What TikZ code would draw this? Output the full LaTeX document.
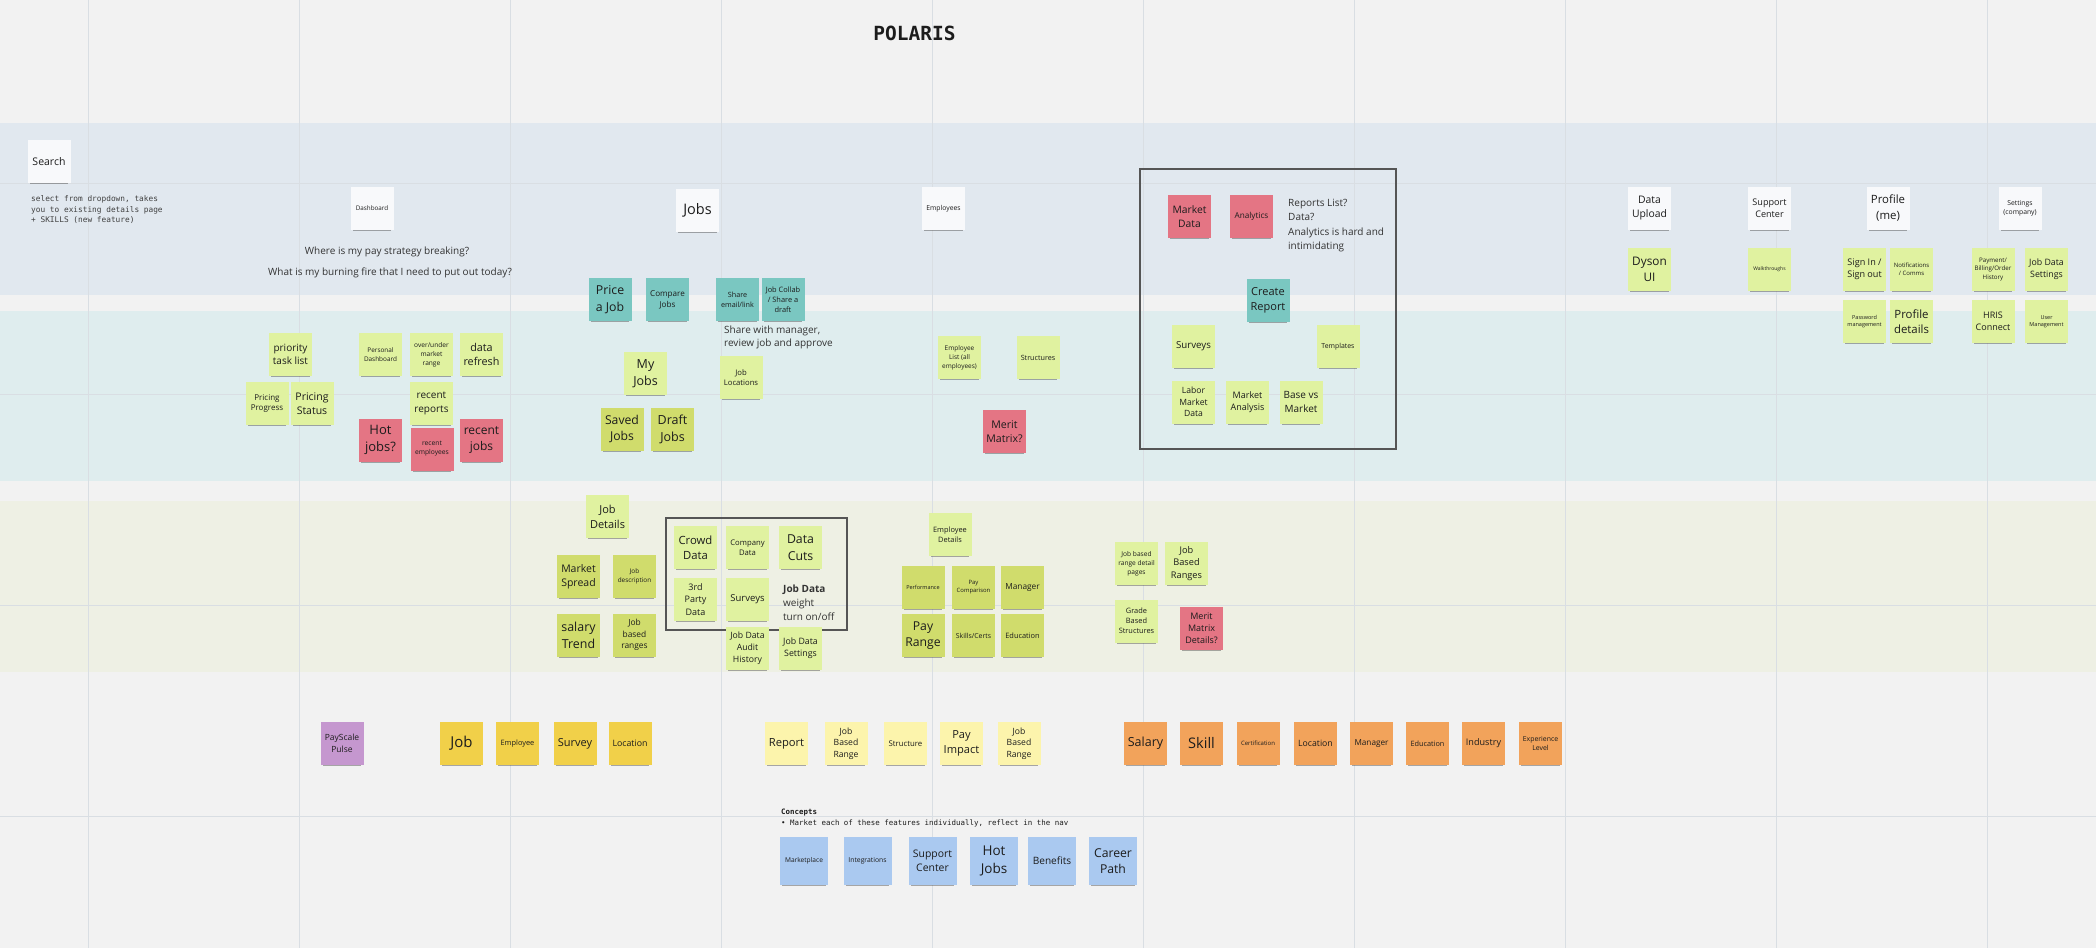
\documentclass[tikz,border=0pt]{standalone}
\usepackage{fontspec}
\setmainfont{Open Sans}
\setmonofont{DejaVu Sans Mono}
\usetikzlibrary{shadows}

\definecolor{boardbg}{HTML}{F2F2F2}
\definecolor{bandblue}{HTML}{E1E8EF}
\definecolor{bandteal}{HTML}{DFEDEE}
\definecolor{bandolive}{HTML}{EEF0E4}
\definecolor{gridgray}{HTML}{D9DEE3}
\definecolor{framegray}{HTML}{555555}
\definecolor{inkgray}{HTML}{333333}
\definecolor{notetext}{HTML}{1C1C1C}
\definecolor{notewhite}{HTML}{F8F9FB}
\definecolor{notelime}{HTML}{E0F2A0}
\definecolor{noteolive}{HTML}{D0DC6C}
\definecolor{noteteal}{HTML}{7AC7C1}
\definecolor{notered}{HTML}{E47584}
\definecolor{notepurple}{HTML}{C597CF}
\definecolor{noteyellow}{HTML}{F1D049}
\definecolor{notecream}{HTML}{FCF4AC}
\definecolor{noteorange}{HTML}{F2A35B}
\definecolor{noteblue}{HTML}{AAC9F0}

\tikzset{
  fs/.code={\pgfmathsetmacro\notelead{1.36*#1}%
    \pgfkeysalso{/tikz/font/.expanded={\noexpand\fontsize{#1}{\notelead}\noexpand\selectfont}}},
  sticky/.style={rectangle, fill=#1, minimum width=43pt, minimum height=43pt,
    inner sep=1pt, align=center, text=notetext,
    drop shadow={shadow xshift=0pt, shadow yshift=-4pt, shadow scale=0.9,
      opacity=0.4, fill=black!80}},
  concept/.style={sticky=noteblue, minimum width=48pt, minimum height=48pt},
  gridrule/.style={draw=gridgray, line width=0.8pt},
  groupbox/.style={draw=framegray, line width=1.1pt},
  remark/.style={inner sep=0pt, text=inkgray, align=left}
}

\begin{document}
\begin{tikzpicture}[x=1pt, y=-1pt]
  \useasboundingbox (0,0) rectangle (2096,948);

  % board and swimlanes
  \fill[boardbg] (0,0) rectangle (2096,948);
  \fill[bandblue] (0,123) rectangle (2096,295);
  \fill[bandteal] (0,311) rectangle (2096,481);
  \fill[bandolive] (0,501) rectangle (2096,672);
  \foreach \x in {88,299,...,1987}
    \draw[gridrule] (\x,0) -- (\x,948);
  \foreach \y in {183,394,605,816}
    \draw[gridrule] (0,\y) -- (2096,\y);

  % group frames
  \draw[groupbox] (1140,169) rectangle (1396,449);
  \draw[groupbox] (666,518) rectangle (847,630);

  \node[font=\ttfamily\bfseries\fontsize{19.5}{20}\selectfont, text=notetext] (title) at (914.5,33) {POLARIS};

  % navigation headers
  \node[sticky=notewhite, fs=10.5] (search) at (49,161.5) {Search};
  \node[sticky=notewhite, fs=6.3] (dash) at (372,208) {Dashboard};
  \node[sticky=notewhite, fs=14.5] (jobs) at (697.5,210.5) {Jobs};
  \node[sticky=notewhite, fs=6.8] (emps) at (943.5,208.5) {Employees};
  \node[sticky=notewhite, fs=10.4] (upload) at (1649.5,208) {Data\\Upload};
  \node[sticky=notewhite, fs=9.1] (support) at (1769.5,208) {Support\\Center};
  \node[sticky=notewhite, fs=11.4] (profile) at (1888,208) {Profile\\(me)};
  \node[sticky=notewhite, fs=6.8] (settings) at (2020,208) {Settings\\(company)};

  \node[remark, anchor=north west, font=\ttfamily\fontsize{7.8}{10.4}\selectfont, text=black!75] (searchnote) at (31,195.5)
    {select from dropdown, takes\\you to existing details page\\+ SKILLS (new feature)};
  \node[remark, font=\fontsize{10}{12}\selectfont] (q1) at (387,252) {Where is my pay strategy breaking?};
  \node[remark, font=\fontsize{10}{12}\selectfont] (q2) at (390,273) {What is my burning fire that I need to put out today?};

  % dashboard
  \node[sticky=notelime, fs=10] (prio) at (290.5,354.5) {priority\\task list};
  \node[sticky=notelime, fs=8] (pprog) at (267,403.5) {Pricing\\Progress};
  \node[sticky=notelime, fs=10.5] (pstat) at (312,403.5) {Pricing\\Status};
  \node[sticky=notelime, fs=6.4] (pdash) at (380.5,354.5) {Personal\\Dashboard};
  \node[sticky=notelime, fs=6.6] (mrange) at (431.5,354.5) {over/under\\market\\range};
  \node[sticky=notelime, fs=10.8] (refresh) at (481.5,354.5) {data\\refresh};
  \node[sticky=notelime, fs=10] (recrep) at (431.5,403.5) {recent\\reports};
  \node[sticky=notered, fs=13] (hot) at (380.5,440) {Hot\\jobs?};
  \node[sticky=notered, fs=6.7] (recemp) at (432,449) {recent\\employees};
  \node[sticky=notered, fs=12] (recjobs) at (481.5,440) {recent\\jobs};

  % jobs
  \node[sticky=noteteal, fs=12.3] (price) at (610,299.5) {Price\\a Job};
  \node[sticky=noteteal, fs=8.1] (compare) at (667.5,299.5) {Compare\\Jobs};
  \node[sticky=noteteal, fs=7.2] (share) at (737.5,299.5) {Share\\email/link};
  \node[sticky=noteteal, fs=7.4] (collab) at (783,299.5) {Job Collab\\/ Share a\\draft};
  \node[remark, anchor=north west, font=\fontsize{10}{13.3}\selectfont] (sharenote) at (724,325.5)
    {Share with manager,\\review job and approve};
  \node[sticky=notelime, fs=12.5] (myjobs) at (645.5,373.5) {My\\Jobs};
  \node[sticky=notelime, fs=7.7] (locs) at (741,377.5) {Job\\Locations};
  \node[sticky=noteolive, fs=12.2] (saved) at (622,429) {Saved\\Jobs};
  \node[sticky=noteolive, fs=12.5] (draft) at (672.5,429) {Draft\\Jobs};

  % employees
  \node[sticky=notelime, fs=6.5] (emplist) at (959.5,357.5) {Employee\\List (all\\employees)};
  \node[sticky=notelime, fs=7.2] (structs) at (1038,357.5) {Structures};
  \node[sticky=notered, fs=10.6] (merit) at (1004.5,431.5) {Merit\\Matrix?};

  % reports
  \node[sticky=notered, fs=10.3] (mdata) at (1189.5,216.5) {Market\\Data};
  \node[sticky=notered, fs=8.2] (analytics) at (1251.5,216.5) {Analytics};
  \node[remark, anchor=north west, font=\fontsize{10}{14.5}\selectfont] (reportnote) at (1288,198.5)
    {Reports List?\\Data?\\Analytics is hard and\\intimidating};
  \node[sticky=noteteal, fs=11] (create) at (1268,300) {Create\\Report};
  \node[sticky=notelime, fs=9.7] (rsurveys) at (1193.5,346.5) {Surveys};
  \node[sticky=notelime, fs=6.9] (templates) at (1338,346.5) {Templates};
  \node[sticky=notelime, fs=8.6] (labor) at (1193.5,402) {Labor\\Market\\Data};
  \node[sticky=notelime, fs=9] (manalysis) at (1247.5,402) {Market\\Analysis};
  \node[sticky=notelime, fs=10] (basevs) at (1301,402) {Base vs\\Market};

  % upload, support, profile, settings
  \node[sticky=notelime, fs=11.8] (dyson) at (1649.5,269.5) {Dyson\\UI};
  \node[sticky=notelime, fs=5] (walk) at (1769.5,269.5) {Walkthroughs};
  \node[sticky=notelime, fs=9.1] (signin) at (1864.5,269.5) {Sign In /\\Sign out};
  \node[sticky=notelime, fs=6] (notif) at (1911.5,269.5) {Notifications\\/ Comms};
  \node[sticky=notelime, fs=6.2] (billing) at (1993,269.5) {Payment/\\Billing/Order\\History};
  \node[sticky=notelime, fs=8.8] (jdset) at (2046.5,269.5) {Job Data\\Settings};
  \node[sticky=notelime, fs=5.5] (pwd) at (1864.5,321.5) {Password\\management};
  \node[sticky=notelime, fs=11.4] (pdetails) at (1911.5,321.5) {Profile\\details};
  \node[sticky=notelime, fs=9] (hris) at (1993,321.5) {HRIS\\Connect};
  \node[sticky=notelime, fs=5.5] (users) at (2046.5,321.5) {User\\Management};

  % job details
  \node[sticky=notelime, fs=11] (jdetails) at (607.5,516.5) {Job\\Details};
  \node[sticky=noteolive, fs=10.5] (spread) at (578.5,576.5) {Market\\Spread};
  \node[sticky=noteolive, fs=6.4] (jdesc) at (634.5,576.5) {Job\\description};
  \node[sticky=noteolive, fs=12.4] (trend) at (578.5,635) {salary\\Trend};
  \node[sticky=noteolive, fs=8.4] (jranges) at (634.5,635) {Job\\based\\ranges};
  \node[sticky=notelime, fs=11.3] (crowd) at (695.5,547.5) {Crowd\\Data};
  \node[sticky=notelime, fs=7.7] (company) at (747.5,547.5) {Company\\Data};
  \node[sticky=notelime, fs=12.3] (cuts) at (800.5,547.5) {Data\\Cuts};
  \node[sticky=notelime, fs=9] (third) at (695.5,599.5) {3rd\\Party\\Data};
  \node[sticky=notelime, fs=9.5] (dsurveys) at (747.5,599.5) {Surveys};
  \node[remark, anchor=north west, font=\fontsize{10}{14.3}\selectfont] (weightnote) at (783,584.5)
    {\textbf{Job Data}\\weight\\turn on/off};
  \node[sticky=notelime, fs=8.7] (audit) at (747.5,648.5) {Job Data\\Audit\\History};
  \node[sticky=notelime, fs=8.8] (jdsettings) at (800.5,648.5) {Job Data\\Settings};

  % employee details
  \node[sticky=notelime, fs=7.4] (edetails) at (950,534.5) {Employee\\Details};
  \node[sticky=noteolive, fs=5.5] (perf) at (923,587.5) {Performance};
  \node[sticky=noteolive, fs=5.9] (paycomp) at (973.5,587.5) {Pay\\Comparison};
  \node[sticky=noteolive, fs=8.3] (emgr) at (1022.5,587.5) {Manager};
  \node[sticky=noteolive, fs=12.2] (payrange) at (923,635.5) {Pay\\Range};
  \node[sticky=noteolive, fs=6.9] (skills) at (973.5,635.5) {Skills/Certs};
  \node[sticky=noteolive, fs=7.4] (eedu) at (1022.5,635.5) {Education};
  \node[sticky=notelime, fs=6.6] (rdetail) at (1136.5,563.5) {Job based\\range detail\\pages};
  \node[sticky=notelime, fs=9.2] (jbranges) at (1186.5,563.5) {Job\\Based\\Ranges};
  \node[sticky=notelime, fs=7.4] (grade) at (1136.5,621) {Grade\\Based\\Structures};
  \node[sticky=notered, fs=9] (mmdetails) at (1201.5,628.5) {Merit\\Matrix\\Details?};

  % objects row
  \node[sticky=notepurple, fs=8.5] (pulse) at (342,743.5) {PayScale\\Pulse};
  \foreach \name/\x/\txt/\sz in {job/461.5/Job/15, employee/517.5/Employee/7.4,
      survey/575/Survey/11, location/630/Location/8.8}
    \node[sticky=noteyellow, fs=\sz] (\name) at (\x,743.5) {\txt};
  \foreach \name/\x/\txt/\sz in {report/786.5/Report/11.2, jbrange/846/Job\\Based\\Range/8.6,
      structure/905.5/Structure/7.8, impact/961.5/Pay\\Impact/11.1, jbrange2/1019/Job\\Based\\Range/8.6}
    \node[sticky=notecream, fs=\sz] (\name) at (\x,743.5) {\txt};
  \foreach \name/\x/\txt/\sz in {salary/1145.5/Salary/12.5, skill/1201.5/Skill/14.6,
      cert/1258/Certification/6, oloc/1315.5/Location/8.7, omgr/1371.5/Manager/8.2,
      oedu/1427.5/Education/7.3, industry/1483.5/Industry/9.1, exper/1540.5/Experience\\Level/6.9}
    \node[sticky=noteorange, fs=\sz] (\name) at (\x,743.5) {\txt};

  % concepts
  \node[remark, anchor=north west, font=\ttfamily\fontsize{7.45}{11}\selectfont, text=notetext] (conceptnote) at (781,808.5)
    {\textbf{Concepts}\\• Market each of these features individually, reflect in the nav};
  \foreach \name/\x/\txt/\sz in {market/804/Marketplace/6.6, integr/867.5/Integrations/6.8,
      csupport/932.5/Support\\Center/10.4, chot/994/Hot\\Jobs/13.5,
      benefits/1052/Benefits/10.1, career/1113/Career\\Path/12.2}
    \node[concept, fs=\sz] (\name) at (\x,861) {\txt};
\end{tikzpicture}
\end{document}
